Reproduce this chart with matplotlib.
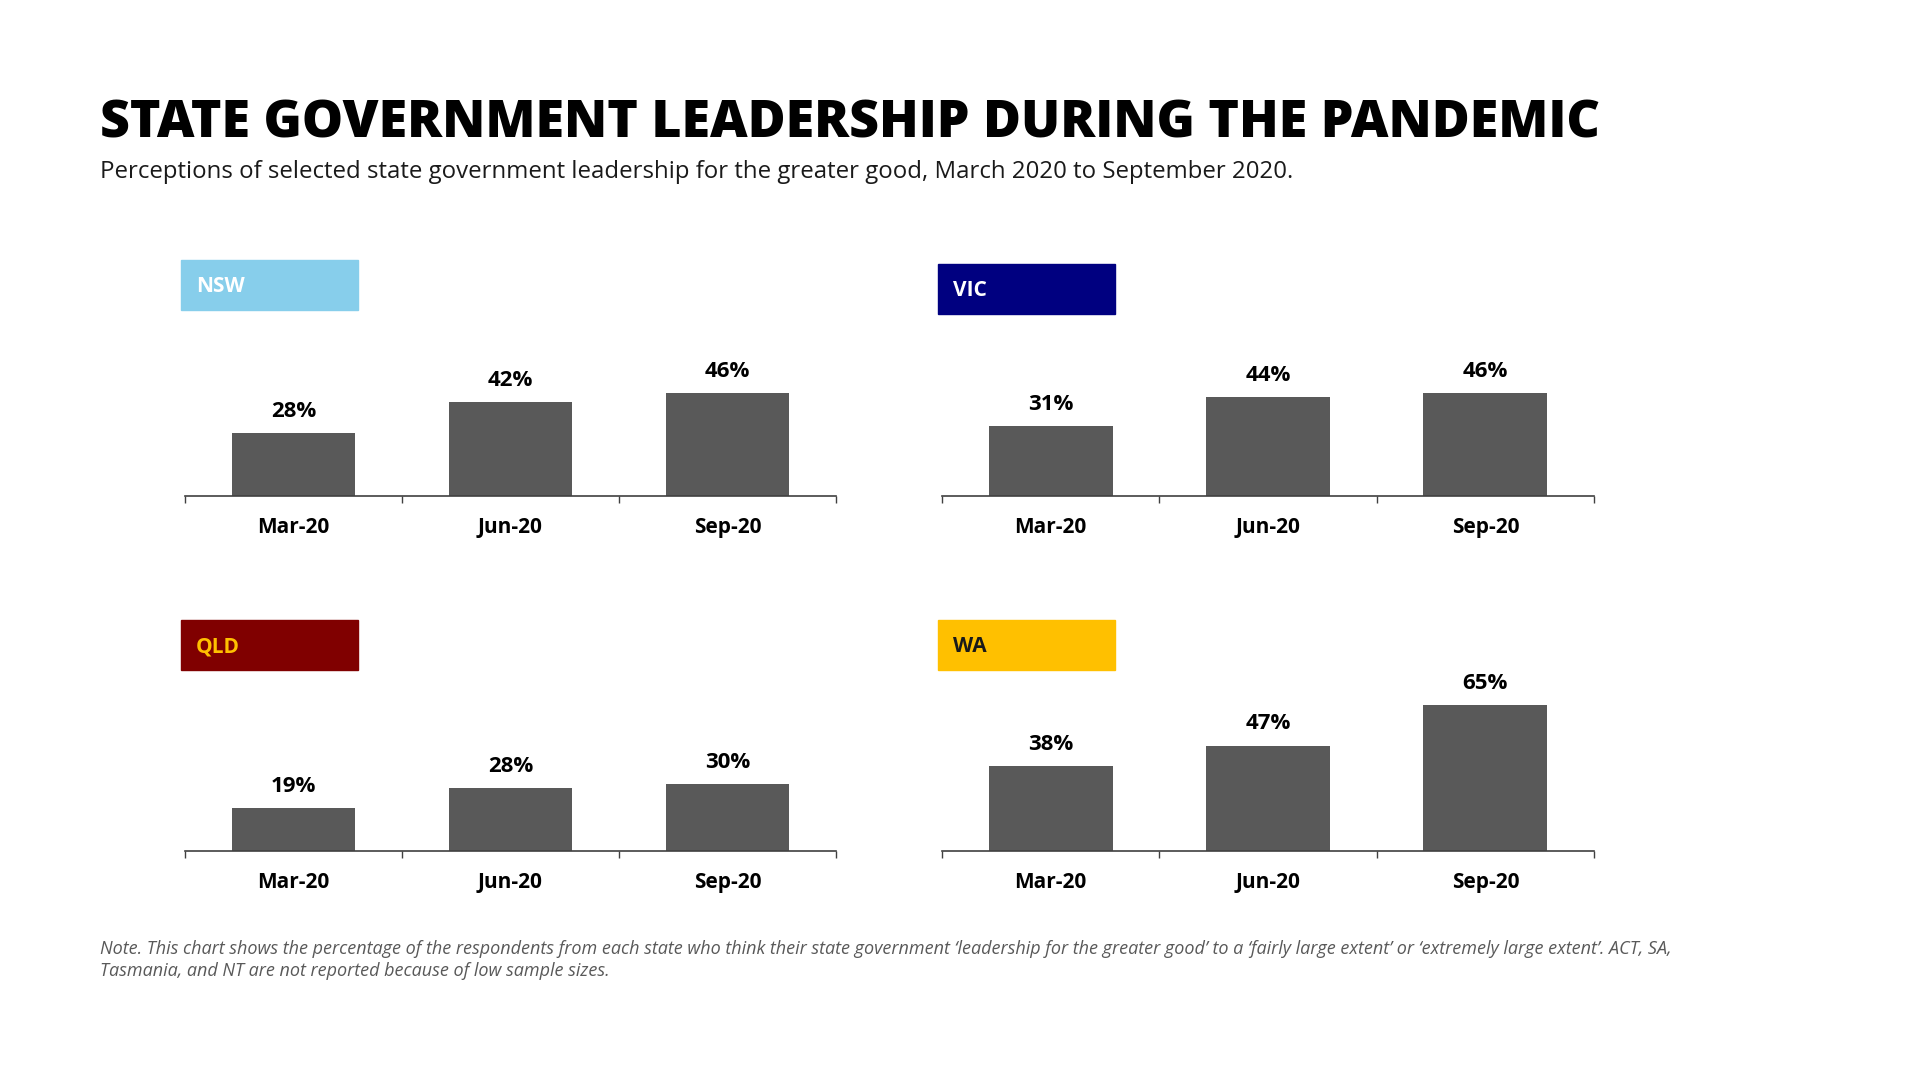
import matplotlib.pyplot as plt
from matplotlib.patches import Rectangle

# data
months = ['Mar-20', 'Jun-20', 'Sep-20']
states = ['NSW', 'VIC', 'QLD', 'WA']
nsw = [28, 42, 46]
vic = [31, 44, 46]
qld = [19, 28, 30]
wa = [38, 47, 65]

box_colors = ['#87CEEB', '#000080', '#800000', '#FFC000']
box_text = ['white', 'white', '#FFC000', '#1a1a1a']
bar_color = '#595959'

plt.rcParams['font.family'] = ['Open Sans', 'DejaVu Sans']

W, H = 1920, 1080
fig = plt.figure(figsize=(19.2, 10.8), dpi=100)

def fx(px):
    return px / W

def fy(py):
    return 1 - py / H

fig.text(fx(100), fy(138), 'STATE GOVERNMENT LEADERSHIP DURING THE PANDEMIC',
         fontsize=37.4, fontweight='heavy', color='black', va='baseline', ha='left')
fig.text(fx(100), fy(178),
         'Perceptions of selected state government leadership for the greater good, March 2020 to September 2020.',
         fontsize=17.3, color='#1a1a1a', va='baseline', ha='left')

# panel geometry in pixels: left, right, axis line y, box top
panels = [
    (185, 836, 496, 260),
    (942, 1594, 496, 264),
    (185, 836, 851, 620),
    (942, 1594, 851, 620),
]
values = [nsw, vic, qld, wa]
ax_h = 157  # px for 0..70 %

for i, (left, right, base, btop) in enumerate(panels):
    ax = fig.add_axes([fx(left), fy(base), fx(right) - fx(left), ax_h / H])
    x = range(len(months))
    bars = ax.bar(x, values[i], width=0.57, color=bar_color, zorder=2)
    for b, v in zip(bars, values[i]):
        ax.annotate(f'{v}%', (b.get_x() + b.get_width() / 2, v),
                    xytext=(0, 8), textcoords='offset points',
                    ha='center', va='bottom', fontsize=16, fontweight='bold')
    ax.set_xlim(-0.5, 2.5)
    ax.set_ylim(0, 70)
    ax.set_xticks(list(x))
    ax.set_xticklabels(months, fontsize=15, fontweight='bold')
    ax.tick_params(axis='x', which='major', length=0, pad=15)
    ax.set_xticks([-0.5, 0.5, 1.5, 2.5], minor=True)
    ax.tick_params(axis='x', which='minor', length=5, width=1, color='#404040')
    ax.set_yticks([])
    for s in ['top', 'right', 'left']:
        ax.spines[s].set_visible(False)
    ax.spines['bottom'].set_color('#404040')
    ax.spines['bottom'].set_linewidth(1.2)

    bx = left - 4
    fig.patches.append(Rectangle((fx(bx), fy(btop + 50)), fx(177), 50 / H,
                                 transform=fig.transFigure, color=box_colors[i]))
    fig.text(fx(bx + 15), fy(btop + 27), states[i], fontsize=15, fontweight='bold',
             color=box_text[i], va='center', ha='left')

fig.text(fx(100), fy(954),
         "Note. This chart shows the percentage of the respondents from each state who think their state government "
         "\u2018leadership for the greater good\u2019 to a \u2018fairly large extent\u2019 or \u2018extremely large extent\u2019. ACT, SA,",
         fontsize=13, style='italic', color='#595959', va='baseline', ha='left')
fig.text(fx(100), fy(976),
         'Tasmania, and NT are not reported because of low sample sizes.',
         fontsize=13, style='italic', color='#595959', va='baseline', ha='left')

fig.savefig('out.png', dpi=100, facecolor='white')
